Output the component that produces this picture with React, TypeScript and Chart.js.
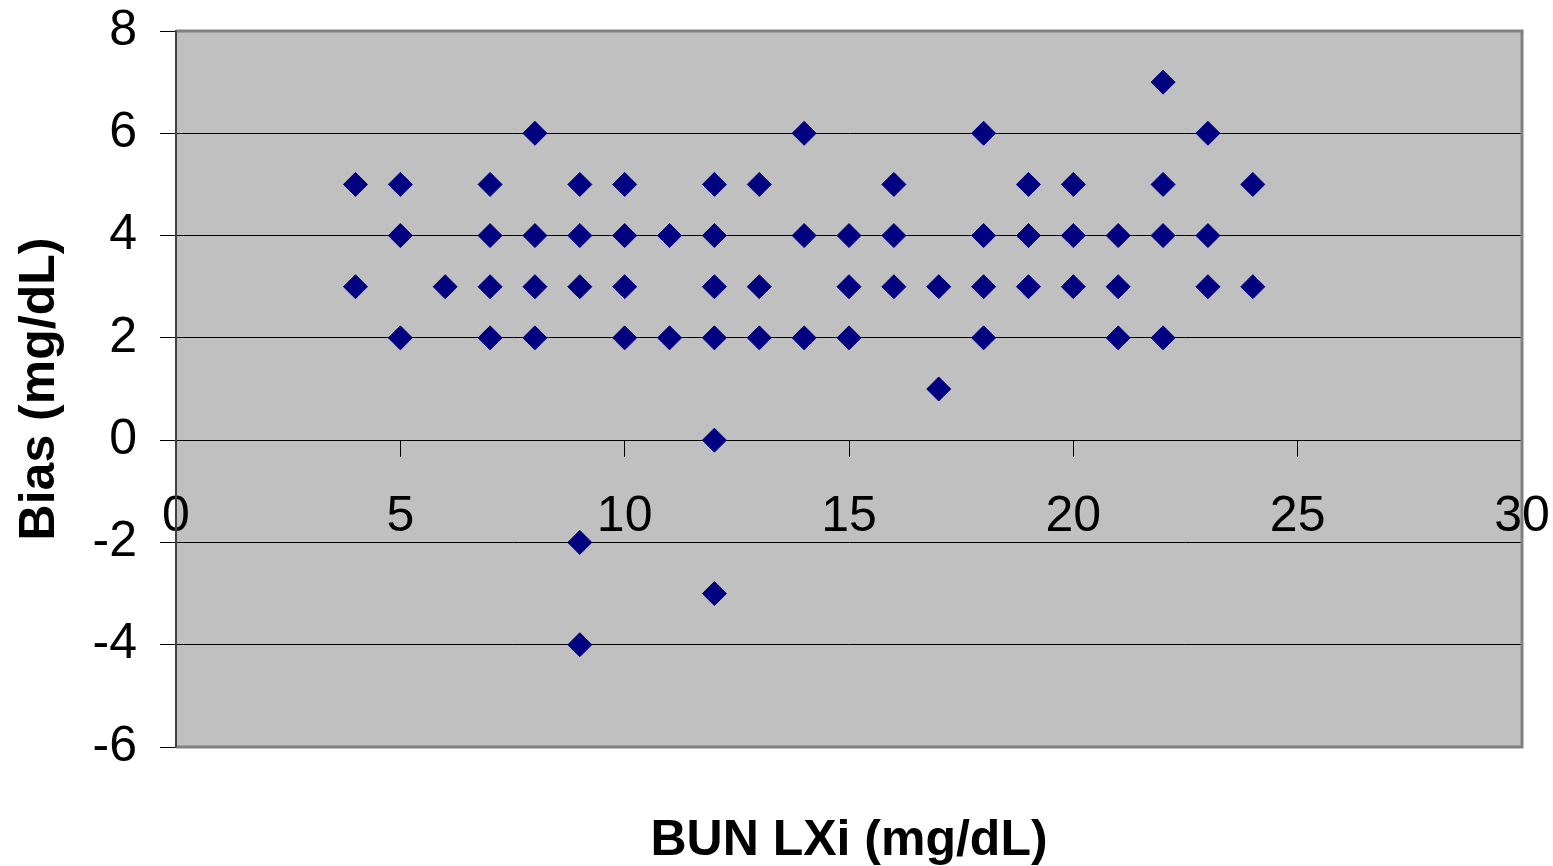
import React, { useEffect, useRef } from "react";
import { Chart, registerables } from "chart.js";

Chart.register(...registerables);

const BUN_LXI = [
  4, 4, 5, 5, 5, 6, 7, 7, 7, 7, 8, 8, 8, 8, 9, 9, 9, 9, 9, 10, 10, 10, 10, 11, 11,
  12, 12, 12, 12, 12, 12, 13, 13, 13, 14, 14, 14, 15, 15, 15, 16, 16, 16, 17, 17,
  18, 18, 18, 18, 19, 19, 19, 20, 20, 20, 21, 21, 21, 22, 22, 22, 22, 23, 23, 23, 24, 24,
];
const BIAS = [
  5, 3, 5, 4, 2, 3, 5, 4, 3, 2, 6, 4, 3, 2, 5, 4, 3, -2, -4, 5, 4, 3, 2, 4, 2,
  5, 4, 3, 2, 0, -3, 5, 3, 2, 6, 4, 2, 4, 3, 2, 5, 4, 3, 3, 1,
  6, 4, 3, 2, 5, 4, 3, 5, 4, 3, 4, 3, 2, 7, 5, 4, 2, 6, 4, 3, 5, 3,
];

const X_RANGE = [0, 30];
const X_STEP = 5;
const Y_RANGE = [-6, 8];
const Y_STEP = 2;
const X_TITLE = "BUN LXi (mg/dL)";
const Y_TITLE = "Bias (mg/dL)";

const FONT = "Arial, 'Liberation Sans', sans-serif";

const plotArea = {
  id: "plotArea",
  beforeDraw(chart: any) {
    const { ctx, chartArea } = chart;
    const { left, top, width, height } = chartArea;
    ctx.save();
    ctx.fillStyle = "#C0C0C0";
    ctx.fillRect(left, top, width, height);
    ctx.restore();
  },
  afterDraw(chart: any) {
    const { ctx, chartArea } = chart;
    const { left, top, right, bottom } = chartArea;
    ctx.save();
    ctx.strokeStyle = "#808080";
    ctx.lineWidth = 3;
    ctx.beginPath();
    ctx.moveTo(left, top);
    ctx.lineTo(right, top);
    ctx.lineTo(right, bottom);
    ctx.lineTo(left, bottom);
    ctx.stroke();
    ctx.strokeStyle = "#404040";
    ctx.lineWidth = 2;
    ctx.beginPath();
    ctx.moveTo(left, top);
    ctx.lineTo(left, bottom);
    ctx.stroke();
    ctx.restore();
  },
};

export default function App() {
  const ref = useRef<HTMLCanvasElement>(null);

  useEffect(() => {
    if (!ref.current) return;
    const points = BUN_LXI.map((x, i) => ({ x, y: BIAS[i] }));
    const chart = new Chart(ref.current, {
      type: "scatter",
      data: {
        datasets: [
          {
            data: points,
            pointStyle: "rectRot",
            pointRadius: 12,
            pointHoverRadius: 12,
            backgroundColor: "#000080",
            borderColor: "#000080",
            borderWidth: 1,
          },
        ],
      },
      options: {
        animation: false,
        responsive: true,
        maintainAspectRatio: false,
        layout: { padding: { left: 0, top: 31, right: 31, bottom: 0 } },
        plugins: {
          legend: { display: false },
          tooltip: { enabled: false },
          title: {
            display: true,
            position: "bottom",
            fullSize: false,
            text: X_TITLE,
            color: "#000",
            font: { family: FONT, size: 50, weight: "bold", lineHeight: 1 },
            padding: { top: 69, bottom: 0 },
          },
        },
        scales: {
          x: {
            type: "linear",
            position: { y: 0 } as any,
            min: X_RANGE[0],
            max: X_RANGE[1],
            afterFit(scale: any) {
              scale.paddingLeft = 0;
              scale.paddingRight = 0;
            },
            ticks: {
              stepSize: X_STEP,
              color: "#000",
              font: { family: FONT, size: 50 },
              padding: 31,
              maxRotation: 0,
            },
            grid: {
              drawOnChartArea: false,
              drawTicks: true,
              tickLength: 16,
              color: "#000",
            },
            border: { display: true, color: "#000", width: 1 },
          },
          y: {
            type: "linear",
            position: "left",
            min: Y_RANGE[0],
            max: Y_RANGE[1],
            afterFit(scale: any) {
              scale.width = 176;
              scale.paddingTop = 0;
              scale.paddingBottom = 0;
            },
            ticks: {
              stepSize: Y_STEP,
              color: "#000",
              font: { family: FONT, size: 50 },
              padding: 23,
            },
            grid: {
              color: "#000",
              lineWidth: 1,
              drawTicks: true,
              tickLength: 16,
            },
            border: { display: true, color: "#404040", width: 2 },
            title: {
              display: true,
              text: Y_TITLE,
              color: "#000",
              font: { family: FONT, size: 50, weight: "bold", lineHeight: 1.2 },
              padding: { top: 10, bottom: 0 },
            },
          },
        },
      },
      plugins: [plotArea],
    });
    return () => chart.destroy();
  }, []);

  return (
    <div style={{ position: "absolute", left: 0, top: 0, width: 1553, height: 866 }}>
      <canvas ref={ref} />
    </div>
  );
}
